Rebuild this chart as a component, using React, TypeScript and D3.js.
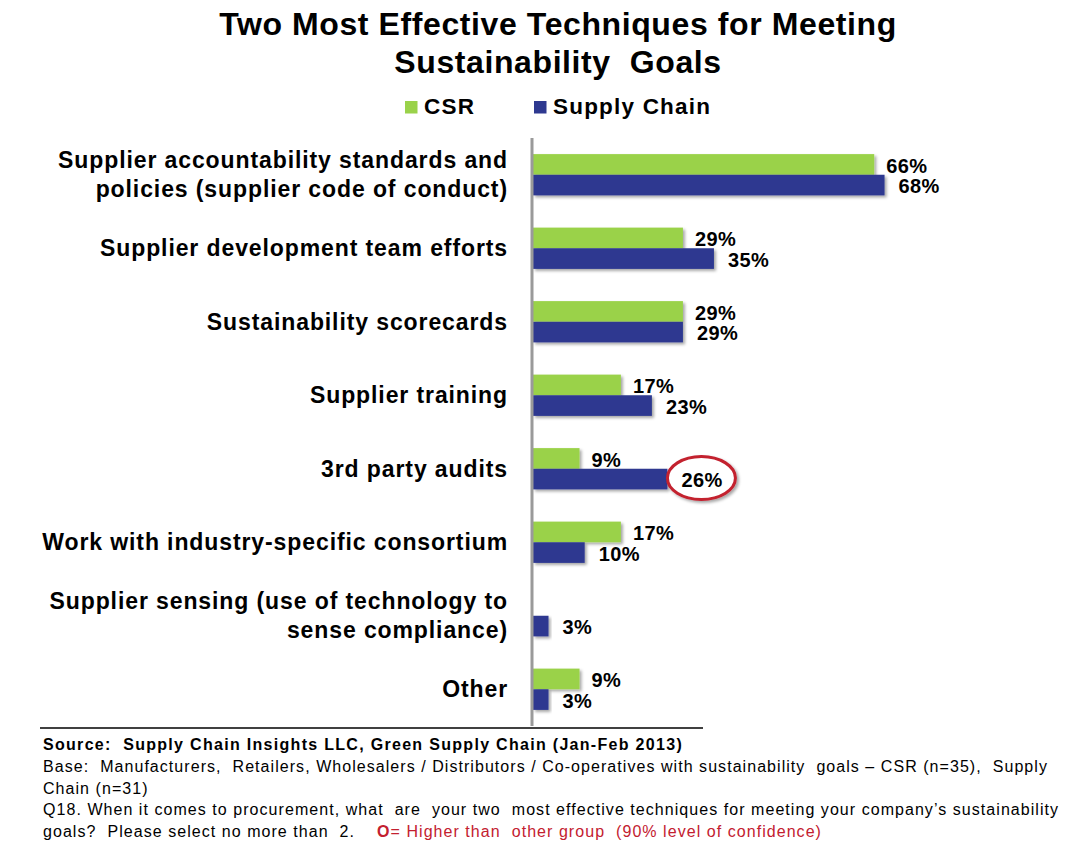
import React from "react";
import * as d3 from "d3";

const categories = [
  "Supplier accountability standards and|policies (supplier code of conduct)",
  "Supplier development team efforts",
  "Sustainability scorecards",
  "Supplier training",
  "3rd party audits",
  "Work with industry-specific consortium",
  "Supplier sensing (use of technology to|sense compliance)",
  "Other",
];
const csrValues = [66, 29, 29, 17, 9, 17, 0, 9];
const supplyChainValues = [68, 35, 29, 23, 26, 10, 3, 3];
const highlighted = [false, false, false, false, true, false, false, false]; // supply chain higher at 90%
const seriesNames = ["CSR", "Supply Chain"];
const seriesColors = ["#9AD24A", "#2E3990"];

const footerLines = [
  "Base:  Manufacturers,  Retailers, Wholesalers / Distributors / Co-operatives with sustainability  goals \u2013 CSR (n=35),  Supply",
  "Chain (n=31)",
  "Q18. When it comes to procurement, what  are  your two  most effective techniques for meeting your company\u2019s sustainability",
];

const font = "Arial, 'Liberation Sans', sans-serif";

const App = () => {
  const width = 1090;
  const height = 855;
  const plot = { top: 138, bottom: 726, left: 533 };

  const y = d3.scaleBand().domain(categories).range([plot.top, plot.bottom]);
  const inner = d3.scaleBand().domain(seriesNames).range([0, y.bandwidth()]).paddingOuter(0.78);
  const x = d3.scaleLinear().domain([0, 100]).range([plot.left, plot.left + 517]);

  const rows = categories.map((c, i) => ({
    cat: c,
    values: [csrValues[i], supplyChainValues[i]],
    hi: highlighted[i],
  }));

  return (
    <svg width={width} height={height} style={{ position: "absolute", left: 0, top: 0, background: "#fff" }} fontFamily={font}>
      <defs>
        <filter id="shadow" x="-10%" y="-30%" width="130%" height="180%">
          <feDropShadow dx="2" dy="2" stdDeviation="1.5" floodColor="#000" floodOpacity="0.35" />
        </filter>
      </defs>

      {/* title */}
      <g fontSize={32} fontWeight="bold" textAnchor="middle" letterSpacing={0.6}>
        <text x={558} y={35} xmlSpace="preserve">{"Two Most Effective Techniques for Meeting"}</text>
        <text x={558} y={73} xmlSpace="preserve">{"Sustainability  Goals"}</text>
      </g>

      {/* legend */}
      {seriesNames.map((s, i) => {
        const lx = i === 0 ? 405 : 534;
        return (
          <g key={s}>
            <rect x={lx} y={101} width={12.5} height={12.5} fill={seriesColors[i]} />
            <text x={lx + 19} y={114} fontSize={22.5} fontWeight="bold" letterSpacing={1.2}>{s}</text>
          </g>
        );
      })}

      {/* bars */}
      {rows.map((r) => (
        <g key={r.cat}>
          {r.values.map((v, j) => {
            if (!v) return null;
            const by = (y(r.cat) as number) + (inner(seriesNames[j]) as number);
            const bh = inner.bandwidth();
            return (
              <rect key={j} x={x(0)} y={by} width={x(v) - x(0)} height={bh}
                fill={seriesColors[j]} filter="url(#shadow)" />
            );
          })}
        </g>
      ))}

      {/* value labels */}
      {rows.map((r) => (
        <g key={r.cat + "l"}>
          {r.values.map((v, j) => {
            if (!v) return null;
            const by = (y(r.cat) as number) + (inner(seriesNames[j]) as number);
            const bh = inner.bandwidth();
            const tx = x(v) + 12 + j * 2;
            const ring = j === 1 && r.hi;
            return (
              <g key={j}>
                {ring && (
                  <ellipse cx={tx + 20} cy={by + bh / 2 - 1} rx={34} ry={21.5}
                    fill="#fff" stroke="#C3202F" strokeWidth={3} filter="url(#shadow)" />
                )}
                <text x={tx} y={by + bh - 2} fontSize={20} fontWeight="bold" letterSpacing={0.4}>{v}%</text>
              </g>
            );
          })}
        </g>
      ))}

      {/* category labels */}
      {rows.map((r) => {
        const lines = r.cat.split("|");
        const cy = (y(r.cat) as number) + y.bandwidth() / 2;
        const lh = 29;
        return (
          <text key={r.cat + "c"} textAnchor="end" fontSize={23} fontWeight="bold" letterSpacing={0.9}>
            {lines.map((ln, k) => (
              <tspan key={k} x={508} y={cy + 8 - ((lines.length - 1) * lh) / 2 + k * lh}>{ln}</tspan>
            ))}
          </text>
        );
      })}

      {/* vertical axis */}
      <line x1={532} x2={532} y1={plot.top} y2={plot.bottom} stroke="#9a9a9a" strokeWidth={3} />

      {/* footer */}
      <line x1={40} x2={703} y1={728} y2={728} stroke="#000" strokeWidth={1.5} />
      <g fontSize={16} letterSpacing={1.05}>
        <text x={43} y={750} fontWeight="bold" letterSpacing={1.3} xmlSpace="preserve">{"Source:  Supply Chain Insights LLC, Green Supply Chain (Jan-Feb 2013)"}</text>
        {footerLines.map((t, i) => (
          <text key={i} x={43} y={772 + i * 21.5} xmlSpace="preserve">{t}</text>
        ))}
        <text x={43} y={836.5} xmlSpace="preserve">
          {"goals?  Please select no more than  2.    "}
          <tspan fill="#C3202F" fontWeight="bold">{"O"}</tspan>
          <tspan fill="#C3202F">{"= Higher than  other group  (90% level of confidence)"}</tspan>
        </text>
      </g>
    </svg>
  );
};

export default App;
